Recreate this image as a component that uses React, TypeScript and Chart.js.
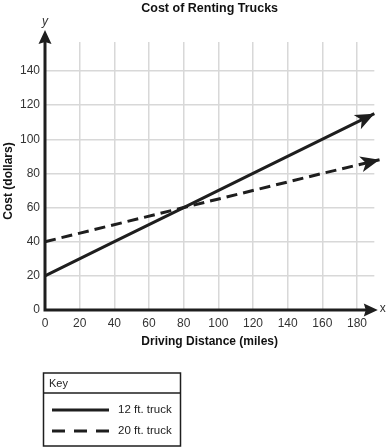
import { useEffect, useRef } from 'react';
import { Chart, registerables } from 'chart.js';

Chart.register(...registerables);

// ---- data ----
const chartTitle = 'Cost of Renting Trucks';
const xAxisTitle = 'Driving Distance (miles)';
const yAxisTitle = 'Cost (dollars)';
const legendTitle = 'Key';
const seriesLabels = ['12 ft. truck', '20 ft. truck'];
const xTicks = [0, 20, 40, 60, 80, 100, 120, 140, 160, 180];
const yTicks = [0, 20, 40, 60, 80, 100, 120, 140];
const truck12X = [0, 40, 80, 120, 190];
const truck12Y = [20, 40, 60, 80, 115];
const truck20X = [0, 80, 160, 193];
const truck20Y = [40, 60, 80, 88];
const xMax = 190;
const yMax = 157;
const xAxisEnd = 192;
const yAxisEnd = 164;

const FONT = '"Liberation Sans", Arial, Helvetica, sans-serif';
const INK = '#1e1e1e';

function arrowHead(ctx: CanvasRenderingContext2D, x: number, y: number, angle: number, len: number, half: number, notch: number) {
  ctx.save();
  ctx.translate(x, y);
  ctx.rotate(angle);
  ctx.beginPath();
  ctx.moveTo(0, 0);
  ctx.lineTo(-len, -half);
  ctx.lineTo(-len + notch, 0);
  ctx.lineTo(-len, half);
  ctx.closePath();
  ctx.fill();
  ctx.restore();
}

const decorPlugin = {
  id: 'decor',
  afterDatasetsDraw(chart: any) {
    const ctx: CanvasRenderingContext2D = chart.ctx;
    const xs = chart.scales.x;
    const ys = chart.scales.y;
    const ca = chart.chartArea;
    ctx.save();
    ctx.fillStyle = INK;
    ctx.strokeStyle = INK;

    // data line arrowheads
    chart.data.datasets.forEach((ds: any, i: number) => {
      const meta = chart.getDatasetMeta(i);
      const pts = meta.data;
      const a = pts[pts.length - 2];
      const b = pts[pts.length - 1];
      const ang = Math.atan2(b.y - a.y, b.x - a.x);
      arrowHead(ctx, b.x, b.y, ang, 19, 8, 5);
    });

    // axes
    const x0 = xs.getPixelForValue(0);
    const y0 = ys.getPixelForValue(0);
    const yTip = ys.getPixelForValue(yAxisEnd);
    const xTip = xs.getPixelForValue(xAxisEnd);
    ctx.lineWidth = 3;
    ctx.setLineDash([]);
    ctx.beginPath();
    ctx.moveTo(x0, y0 + 1.5);
    ctx.lineTo(x0, yTip + 8);
    ctx.moveTo(x0 - 1.5, y0);
    ctx.lineTo(xTip - 8, y0);
    ctx.stroke();
    arrowHead(ctx, x0, yTip, -Math.PI / 2, 14, 6.5, 2);
    arrowHead(ctx, xTip, y0, 0, 14, 6.5, 2);

    // texts
    ctx.fillStyle = '#111';
    ctx.textAlign = 'center';
    ctx.textBaseline = 'middle';
    ctx.font = `bold 12.5px ${FONT}`;
    ctx.fillText(chartTitle, (ca.left + ca.right) / 2, 8.5);
    ctx.font = `bold 12px ${FONT}`;
    ctx.fillText(xAxisTitle, (ca.left + ca.right) / 2, 341.5);
    ctx.save();
    ctx.translate(8.5, 181);
    ctx.rotate(-Math.PI / 2);
    ctx.fillText(yAxisTitle, 0, 0);
    ctx.restore();
    ctx.fillStyle = '#333';
    ctx.font = `italic 12px ${FONT}`;
    ctx.fillText('y', x0, yTip - 8);
    ctx.font = `12px ${FONT}`;
    ctx.textAlign = 'left';
    ctx.fillText('x', xTip + 2, y0 - 1);

    // legend (key)
    const bx = 43.5, by = 373, bw = 137, bh = 73;
    ctx.strokeStyle = INK;
    ctx.lineWidth = 1.5;
    ctx.strokeRect(bx, by, bw, bh);
    ctx.beginPath();
    ctx.moveTo(bx, 393);
    ctx.lineTo(bx + bw, 393);
    ctx.stroke();
    ctx.fillStyle = '#222';
    ctx.font = `11px ${FONT}`;
    ctx.textAlign = 'left';
    ctx.fillText(legendTitle, 49, 383.5);
    const rows = [410, 431];
    chart.data.datasets.forEach((ds: any, i: number) => {
      const ry = rows[i];
      ctx.strokeStyle = ds.borderColor;
      ctx.lineWidth = 3;
      ctx.setLineDash(i === 1 ? [13, 9] : []);
      ctx.beginPath();
      ctx.moveTo(52, ry);
      ctx.lineTo(109, ry);
      ctx.stroke();
      ctx.setLineDash([]);
      ctx.fillStyle = '#222';
      ctx.font = `11.5px ${FONT}`;
      ctx.fillText(ds.label, 118, ry);
    });
    ctx.restore();
  },
};

export default function App() {
  const ref = useRef<HTMLCanvasElement>(null);
  useEffect(() => {
    if (!ref.current) return;
    const chart = new Chart(ref.current, {
      type: 'line',
      data: {
        datasets: [
          {
            label: seriesLabels[0],
            data: truck12X.map((x, i) => ({ x, y: truck12Y[i] })),
            borderColor: INK,
            borderWidth: 3,
            pointRadius: 0,
            tension: 0,
            clip: false as any,
          },
          {
            label: seriesLabels[1],
            data: truck20X.map((x, i) => ({ x, y: truck20Y[i] })),
            borderColor: INK,
            borderWidth: 3,
            borderDash: [11, 6],
            pointRadius: 0,
            tension: 0,
            clip: false as any,
          },
        ],
      },
      options: {
        animation: false,
        responsive: false,
        events: [],
        layout: { padding: { top: 42, right: 388 - 374.33, bottom: 107, left: 0 } },
        plugins: { legend: { display: false }, title: { display: false }, tooltip: { enabled: false } },
        scales: {
          x: {
            type: 'linear',
            min: 0,
            max: xMax,
            afterBuildTicks: (s: any) => { s.ticks = xTicks.map((v) => ({ value: v })); },
            afterFit: (s: any) => { s.height = 30; },
            grid: { color: '#d8d8d8', lineWidth: 1.5, drawTicks: false },
            border: { display: false },
            ticks: { padding: 6, color: '#333', font: { family: FONT, size: 12 }, maxRotation: 0, autoSkip: false },
          },
          y: {
            type: 'linear',
            min: 0,
            max: yMax,
            afterBuildTicks: (s: any) => { s.ticks = yTicks.map((v) => ({ value: v })); },
            afterFit: (s: any) => { s.width = 45; },
            grid: { color: '#d8d8d8', lineWidth: 1.5, drawTicks: false },
            border: { display: false },
            ticks: { padding: 5, color: '#333', font: { family: FONT, size: 12 }, autoSkip: false },
          },
        },
      },
      plugins: [decorPlugin],
    });
    return () => chart.destroy();
  }, []);
  return (
    <div style={{ position: 'absolute', left: 0, top: 0, width: 388, height: 447, background: '#fff' }}>
      <canvas ref={ref} width={388} height={447} style={{ display: 'block' }} />
    </div>
  );
}
